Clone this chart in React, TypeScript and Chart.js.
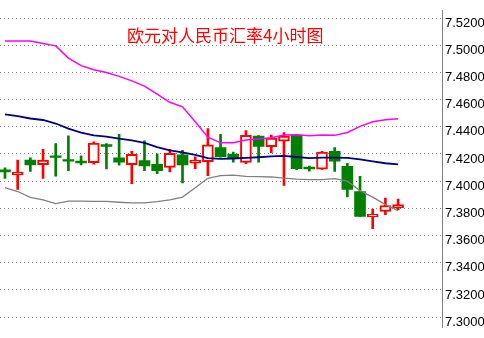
import React, { useEffect, useRef } from 'react';
import { Chart, registerables } from 'chart.js';

Chart.register(...registerables);

// EUR/CNY 4-hour candles (oldest first)
const opens = [
  7.4083, 7.4046, 7.4156, 7.4122, 7.4186, 7.4159, 7.4148, 7.4136,
  7.4270, 7.4172, 7.4122, 7.4152, 7.4124, 7.4101, 7.4193, 7.4133,
  7.4143, 7.4248, 7.4200, 7.4138, 7.4331, 7.4253, 7.4294, 7.4340,
  7.4103, 7.4088, 7.4220, 7.4110, 7.3924, 7.3737, 7.3778, 7.3803,
];
const highs = [
  7.4099, 7.4156, 7.4172, 7.4234, 7.4276, 7.4333, 7.4186, 7.4289,
  7.4276, 7.4344, 7.4220, 7.4296, 7.4202, 7.4234, 7.4227, 7.4179,
  7.4386, 7.4344, 7.4214, 7.4372, 7.4335, 7.4340, 7.4358, 7.4341,
  7.4112, 7.4220, 7.4248, 7.4131, 7.4035, 7.3794, 7.3876, 7.3869,
];
const lows = [
  7.4021, 7.3940, 7.4071, 7.4021, 7.4037, 7.4078, 7.4119, 7.4126,
  7.4090, 7.4117, 7.3982, 7.4078, 7.4055, 7.4069, 7.3988, 7.4092,
  7.4041, 7.4177, 7.4140, 7.4129, 7.4140, 7.4209, 7.3968, 7.4085,
  7.4074, 7.4086, 7.4071, 7.3885, 7.3741, 7.3651, 7.3754, 7.3789,
];
const closes = [
  7.4069, 7.4067, 7.4119, 7.4156, 7.4174, 7.4147, 7.4134, 7.4280,
  7.4256, 7.4140, 7.4198, 7.4112, 7.4078, 7.4205, 7.4119, 7.4156,
  7.4267, 7.4181, 7.4165, 7.4337, 7.4255, 7.4317, 7.4331, 7.4092,
  7.4090, 7.4214, 7.4147, 7.3940, 7.3741, 7.3757, 7.3821, 7.3828,
];

// Bollinger bands
const upperBand = [
  7.5031, 7.5031, 7.5031, 7.5012, 7.4995, 7.4905, 7.4850, 7.4819,
  7.4799, 7.4771, 7.4738, 7.4699, 7.4640, 7.4580, 7.4547, 7.4437,
  7.4324, 7.4282, 7.4282, 7.4303, 7.4310, 7.4320, 7.4340, 7.4342,
  7.4335, 7.4340, 7.4337, 7.4358, 7.4403, 7.4437, 7.4452, 7.4459,
];
const middleBand = [
  7.4492, 7.4479, 7.4461, 7.4450, 7.4424, 7.4386, 7.4357, 7.4337,
  7.4327, 7.4313, 7.4300, 7.4282, 7.4251, 7.4227, 7.4212, 7.4194,
  7.4170, 7.4164, 7.4167, 7.4171, 7.4176, 7.4182, 7.4186, 7.4178,
  7.4170, 7.4174, 7.4174, 7.4172, 7.4160, 7.4145, 7.4132, 7.4124,
];
const lowerBand = [
  7.3952, 7.3924, 7.3881, 7.3863, 7.3835, 7.3854, 7.3854, 7.3852,
  7.3851, 7.3845, 7.3840, 7.3840, 7.3849, 7.3863, 7.3883, 7.3952,
  7.4021, 7.4041, 7.4045, 7.4036, 7.4033, 7.4031, 7.4023, 7.4015,
  7.4011, 7.4012, 7.4019, 7.4000, 7.3931, 7.3883, 7.3828, 7.3783,
];

const yTicks = [
  7.30, 7.32, 7.34, 7.36, 7.38, 7.40, 7.42, 7.44, 7.46, 7.48, 7.50, 7.52,
];

const chartTitle = '欧元对人民币汇率4小时图';

const UP_COLOR = '#ff0000';
const DOWN_COLOR = '#008000';

export default function App() {
  const canvasRef = useRef<HTMLCanvasElement | null>(null);

  useEffect(() => {
    if (!canvasRef.current) return;
    const isUp = opens.map((o, i) => closes[i] >= o);

    const wickData = highs.map((h, i) => ({ x: i, y: [lows[i], h] }));
    const bodyData = opens.map((o, i) => ({ x: i, y: [o, closes[i]] }));
    const band = (arr: number[]) => arr.map((v, i) => ({ x: i, y: v }));

    const chart = new Chart(canvasRef.current, {
      data: {
        datasets: [
          {
            type: 'line',
            label: 'upper',
            data: band(upperBand),
            borderColor: '#ff00ff',
            borderWidth: 1.5,
            pointRadius: 0,
            tension: 0,
            order: 0,
          },
          {
            type: 'line',
            label: 'middle',
            data: band(middleBand),
            borderColor: '#000080',
            borderWidth: 1.8,
            pointRadius: 0,
            tension: 0,
            order: 0,
          },
          {
            type: 'line',
            label: 'lower',
            data: band(lowerBand),
            borderColor: '#808080',
            borderWidth: 1.3,
            pointRadius: 0,
            tension: 0,
            order: 0,
          },
          {
            type: 'bar',
            label: 'body',
            data: bodyData as any,
            backgroundColor: isUp.map((u) => (u ? '#ffffff' : DOWN_COLOR)),
            borderColor: isUp.map((u) => (u ? UP_COLOR : DOWN_COLOR)),
            borderWidth: isUp.map((u) => (u ? 2 : 0)),
            borderSkipped: false,
            barThickness: 11,
            grouped: false,
            order: 2,
          },
          {
            type: 'bar',
            label: 'wick',
            data: wickData as any,
            backgroundColor: isUp.map((u) => (u ? UP_COLOR : DOWN_COLOR)),
            borderWidth: 0,
            barThickness: 2,
            grouped: false,
            order: 3,
          },
        ] as any,
      },
      options: {
        responsive: false,
        animation: false,
        events: [],
        layout: { padding: 0 },
        plugins: {
          legend: { display: false },
          tooltip: { enabled: false },
          title: { display: false },
        },
        scales: {
          x: {
            type: 'linear',
            display: false,
            min: -0.394,
            max: 34.464,
            offset: false,
          },
          y: {
            type: 'linear',
            position: 'right',
            min: 7.29263,
            max: 7.5253,
            afterFit: (scale: any) => {
              scale.width = 42;
            },
            afterBuildTicks: (scale: any) => {
              scale.ticks = yTicks.map((v) => ({ value: v }));
            },
            grid: {
              color: '#808080',
              lineWidth: 1,
              drawTicks: false,
            },
            border: {
              display: true,
              color: '#808080',
              width: 1,
              dash: [1, 3],
            },
            ticks: {
              padding: 3,
              labelOffset: 5,
              color: '#000000',
              font: { family: '"Liberation Sans", Arial, sans-serif', size: 13 },
              callback: (v: any) => Number(v).toFixed(4),
            },
          },
        },
      } as any,
    });

    return () => chart.destroy();
  }, []);

  return (
    <div
      style={{
        position: 'fixed',
        left: 0,
        top: 0,
        width: 484,
        height: 338,
        background: '#ffffff',
        overflow: 'hidden',
      }}
    >
      <canvas ref={canvasRef} width={484} height={338} style={{ display: 'block' }} />
      <div
        style={{
          position: 'absolute',
          left: 127,
          top: 26,
          fontFamily: '"Noto Sans CJK SC", sans-serif',
          fontSize: 17,
          lineHeight: '17px',
          color: '#ff0000',
          whiteSpace: 'nowrap',
        }}
      >
        {chartTitle}
      </div>
    </div>
  );
}
